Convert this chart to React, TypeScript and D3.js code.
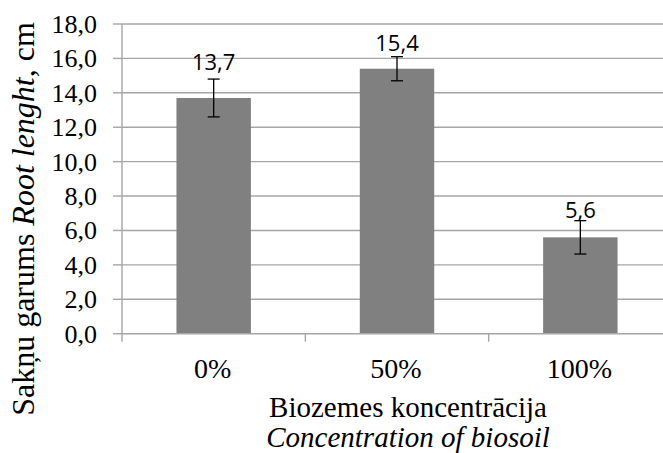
import React from "react";
import * as d3 from "d3";

const categories = ["0%", "50%", "100%"];
const values = [13.7, 15.4, 5.6];
const errors = [1.1, 0.7, 0.97];
const yTicks = [0, 2, 4, 6, 8, 10, 12, 14, 16, 18];

const W = 663;
const H = 453;
const left = 122;
const right = 672;
const top = 24;
const bottom = 333.7;

const fmt = (v: number) => v.toFixed(1).replace(".", ",");

export default function App() {
  const x = d3
    .scaleBand<string>()
    .domain(categories)
    .range([left, right])
    .paddingInner(0.594)
    .paddingOuter(0.297);
  const y = d3.scaleLinear().domain([0, 18]).range([bottom, top]);
  const step = x.step();
  const labelOffsets = [28, 18, 19];

  return (
    <svg
      width={W}
      height={H}
      style={{ position: "absolute", left: 0, top: 0, fontFamily: "'Liberation Serif', serif" }}
    >
      <rect x={0} y={0} width={W} height={H} fill="#fff" />
      {yTicks.map((t) => (
        <g key={t}>
          {t > 0 && (
            <line x1={left} x2={W} y1={y(t)} y2={y(t)} stroke="#a6a6a6" strokeWidth={1.4} />
          )}
          <line x1={left - 9} x2={left} y1={y(t)} y2={y(t)} stroke="#a6a6a6" strokeWidth={1.4} />
          <text x={97} y={y(t) + 9} textAnchor="end" fontSize={26} fill="#000">
            {fmt(t)}
          </text>
        </g>
      ))}
      {categories.map((c, i) => (
        <rect
          key={c}
          x={x(c)!}
          y={y(values[i])}
          width={x.bandwidth()}
          height={bottom - y(values[i])}
          fill="#808080"
        />
      ))}
      <line x1={left} x2={left} y1={top} y2={bottom + 8} stroke="#a6a6a6" strokeWidth={1.4} />
      <line x1={left} x2={W} y1={bottom} y2={bottom} stroke="#a6a6a6" strokeWidth={1.4} />
      {categories.slice(1).map((c) => (
        <line
          key={c}
          x1={x(c)! - (step - x.bandwidth()) / 2}
          x2={x(c)! - (step - x.bandwidth()) / 2}
          y1={bottom}
          y2={bottom + 8}
          stroke="#a6a6a6"
          strokeWidth={1.4}
        />
      ))}
      {categories.map((c, i) => {
        const cx = x(c)! + x.bandwidth() / 2;
        const y1 = y(values[i] + errors[i]);
        const y2 = y(values[i] - errors[i]);
        return (
          <g key={c} stroke="#000" strokeWidth={1.3}>
            <line x1={cx} x2={cx} y1={y1} y2={y2} />
            <line x1={cx - 6} x2={cx + 6} y1={y1} y2={y1} />
            <line x1={cx - 6} x2={cx + 6} y1={y2} y2={y2} />
          </g>
        );
      })}
      {categories.map((c, i) => (
        <text
          key={c}
          x={x(c)! + x.bandwidth() / 2}
          y={y(values[i]) - labelOffsets[i]}
          textAnchor="middle"
          style={{ fontFamily: "'Open Sans', sans-serif" }}
          fontSize={22}
          fill="#000"
        >
          {fmt(values[i])}
        </text>
      ))}
      {categories.map((c) => (
        <text
          key={c}
          x={x(c)! + x.bandwidth() / 2 - 1}
          y={378}
          textAnchor="middle"
          fontSize={28}
          fill="#000"
        >
          {c}
        </text>
      ))}
      <text x={408} y={417} textAnchor="middle" fontSize={29} fill="#000">
        Biozemes koncentrācija
      </text>
      <text x={408} y={447} textAnchor="middle" fontSize={29} fontStyle="italic" fill="#000">
        Concentration of biosoil
      </text>
      <text
        transform={`translate(34, 219) rotate(-90)`}
        textAnchor="middle"
        fontSize={32}
        fill="#000"
      >
        Sakņu garums <tspan fontStyle="italic">Root lenght</tspan>, cm
      </text>
    </svg>
  );
}
